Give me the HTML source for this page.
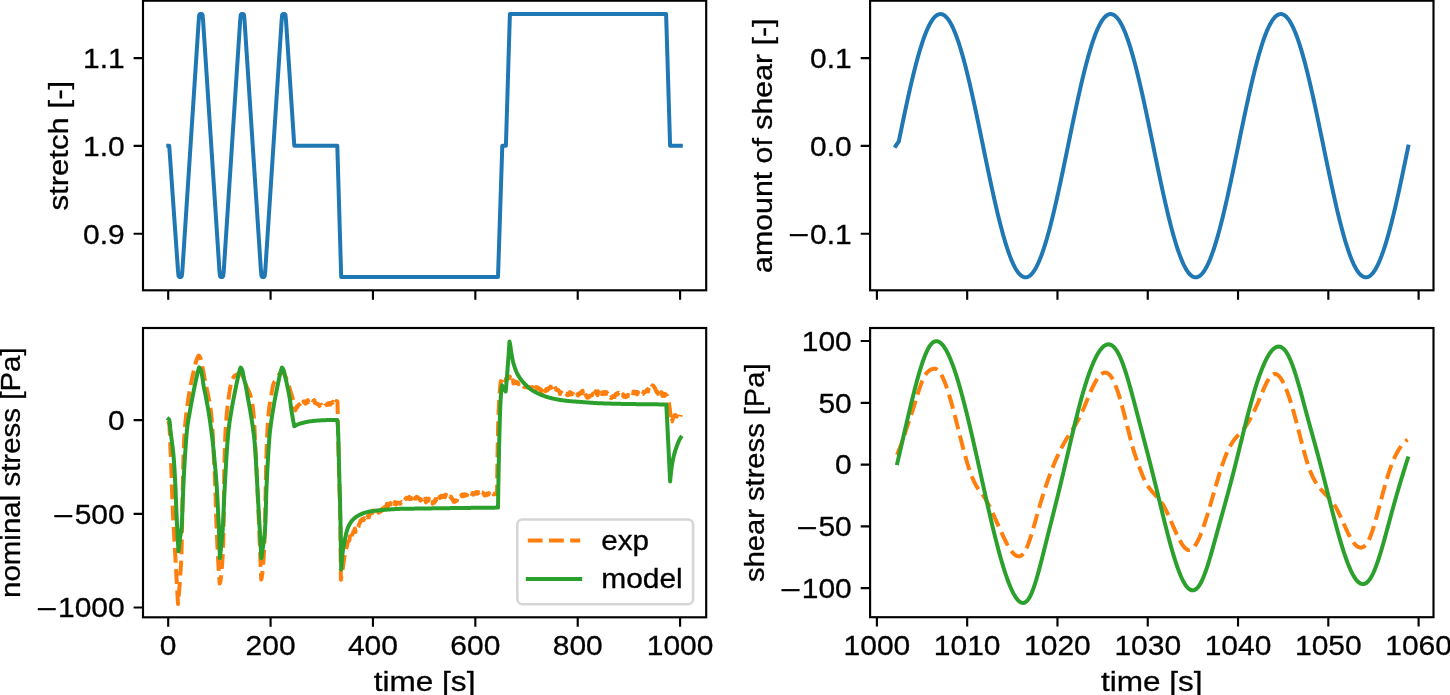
<!DOCTYPE html>
<html lang="en"><head><meta charset="utf-8"><title>stretch / shear protocol and stress response</title>
<style>html,body{margin:0;padding:0;background:#fff}body{width:1450px;height:695px;overflow:hidden;font-family:"Liberation Sans",sans-serif}svg{display:block}text{stroke:#000;stroke-width:.3px}</style></head>
<body>
<svg width="1450" height="695" viewBox="0 0 1450 695">
<rect width="1450" height="695" fill="#fff"/>
<g opacity="0.999" font-family="'Liberation Sans', sans-serif" font-size="27" fill="#000">
<clipPath id="ctl"><rect x="143" y="0.7" width="563.2" height="289.6"/></clipPath>
<clipPath id="ctr"><rect x="870.1" y="0.7" width="563.4" height="289.6"/></clipPath>
<clipPath id="cbl"><rect x="143" y="328" width="563.2" height="289.3"/></clipPath>
<clipPath id="cbr"><rect x="870.1" y="328" width="563.4" height="289.2"/></clipPath>
<g clip-path="url(#ctl)">
<path d="M168.3 145.7L169.2 145.7L178.03 271.01L178.55 275.92L179.35 277L181.05 277L181.84 275.92L182.34 271.01L198.76 19.89L199.26 14.98L200.05 13.9L201.75 13.9L202.54 14.98L203.04 19.89L219.46 271.01L219.96 275.92L220.75 277L222.45 277L223.24 275.92L223.74 271.01L240.21 19.89L240.71 14.98L241.5 13.9L243.2 13.9L243.99 14.98L244.49 19.89L260.96 271.01L261.46 275.92L262.25 277L263.95 277L264.74 275.92L265.24 271.01L281.66 19.89L282.16 14.98L282.95 13.9L284.65 13.9L285.44 14.98L285.95 19.89L294.3 145.7L337.3 145.7L341.2 277L498 277L502.3 145.7L505.9 145.7L509.9 13.9L666.1 13.9L670.1 145.7L680.8 145.7" fill="none" stroke="#1f77b4" stroke-width="4" stroke-linecap="square" stroke-linejoin="round"/>
</g>
<g clip-path="url(#ctr)">
<path d="M895.7 145.9L898.8 141.33L899.53 137.79L900.26 134.26L900.99 130.73L901.72 127.22L902.44 123.72L903.17 120.23L903.9 116.77L904.63 113.32L905.36 109.9L906.09 106.51L906.82 103.14L907.55 99.8L908.27 96.5L909 93.23L909.73 90L910.46 86.81L911.19 83.67L911.92 80.56L912.65 77.51L913.38 74.5L914.11 71.55L914.83 68.65L915.56 65.81L916.29 63.02L917.02 60.3L917.75 57.63L918.48 55.03L919.21 52.49L919.94 50.03L920.66 47.63L921.39 45.3L922.12 43.05L922.85 40.87L923.58 38.76L924.31 36.74L925.04 34.79L925.77 32.92L926.5 31.13L927.22 29.43L927.95 27.81L928.68 26.28L929.41 24.83L930.14 23.47L930.87 22.2L931.6 21.02L932.33 19.93L933.05 18.93L933.78 18.02L934.51 17.2L935.24 16.48L935.97 15.85L936.7 15.32L937.43 14.88L938.16 14.53L938.89 14.28L939.61 14.12L940.34 14.06L941.07 14.1L941.8 14.23L942.53 14.45L943.26 14.77L943.99 15.19L944.72 15.69L945.44 16.3L946.17 17L946.9 17.79L947.63 18.67L948.36 19.64L949.09 20.71L949.82 21.87L950.55 23.11L951.28 24.45L952 25.87L952.73 27.38L953.46 28.98L954.19 30.66L954.92 32.42L955.65 34.27L956.38 36.19L957.11 38.2L957.83 40.28L958.56 42.44L959.29 44.67L960.02 46.98L960.75 49.36L961.48 51.81L962.21 54.32L962.94 56.91L963.67 59.55L964.39 62.26L965.12 65.03L965.85 67.86L966.58 70.75L967.31 73.69L968.04 76.68L968.77 79.72L969.5 82.81L970.23 85.94L970.95 89.12L971.68 92.34L972.41 95.59L973.14 98.89L973.87 102.22L974.6 105.57L975.33 108.96L976.06 112.38L976.78 115.82L977.51 119.28L978.24 122.76L978.97 126.25L979.7 129.76L980.43 133.28L981.16 136.81L981.89 140.35L982.62 143.89L983.34 147.43L984.07 150.98L984.8 154.51L985.53 158.04L986.26 161.57L986.99 165.08L987.72 168.57L988.45 172.05L989.17 175.51L989.9 178.95L990.63 182.37L991.36 185.76L992.09 189.11L992.82 192.44L993.55 195.74L994.28 199L995.01 202.21L995.73 205.39L996.46 208.53L997.19 211.62L997.92 214.66L998.65 217.65L999.38 220.59L1000.11 223.48L1000.84 226.31L1001.56 229.08L1002.29 231.79L1003.02 234.44L1003.75 237.02L1004.48 239.54L1005.21 241.99L1005.94 244.37L1006.67 246.68L1007.4 248.92L1008.12 251.08L1008.85 253.16L1009.58 255.17L1010.31 257.1L1011.04 258.94L1011.77 260.71L1012.5 262.39L1013.23 263.99L1013.95 265.5L1014.68 266.92L1015.41 268.26L1016.14 269.51L1016.87 270.67L1017.6 271.74L1018.33 272.71L1019.06 273.6L1019.79 274.39L1020.51 275.09L1021.24 275.69L1021.97 276.21L1022.7 276.62L1023.43 276.94L1024.16 277.17L1024.89 277.3L1025.62 277.34L1026.34 277.28L1027.07 277.13L1027.8 276.88L1028.53 276.53L1029.26 276.09L1029.99 275.56L1030.72 274.93L1031.45 274.21L1032.18 273.4L1032.9 272.49L1033.63 271.49L1034.36 270.4L1035.09 269.22L1035.82 267.96L1036.55 266.6L1037.28 265.15L1038.01 263.62L1038.73 262L1039.46 260.3L1040.19 258.52L1040.92 256.65L1041.65 254.71L1042.38 252.68L1043.11 250.58L1043.84 248.4L1044.57 246.15L1045.29 243.82L1046.02 241.42L1046.75 238.96L1047.48 236.42L1048.21 233.82L1048.94 231.16L1049.67 228.44L1050.4 225.65L1051.12 222.81L1051.85 219.91L1052.58 216.96L1053.31 213.95L1054.04 210.9L1054.77 207.8L1055.5 204.65L1056.23 201.47L1056.96 198.24L1057.68 194.97L1058.41 191.67L1059.14 188.33L1059.87 184.97L1060.6 181.57L1061.33 178.15L1062.06 174.71L1062.79 171.24L1063.51 167.76L1064.24 164.26L1064.97 160.74L1065.7 157.22L1066.43 153.69L1067.16 150.15L1067.89 146.61L1068.62 143.06L1069.35 139.52L1070.07 135.99L1070.8 132.46L1071.53 128.94L1072.26 125.43L1072.99 121.94L1073.72 118.46L1074.45 115.01L1075.18 111.58L1075.9 108.17L1076.63 104.79L1077.36 101.43L1078.09 98.11L1078.82 94.83L1079.55 91.58L1080.28 88.37L1081.01 85.2L1081.74 82.08L1082.46 79L1083.19 75.97L1083.92 72.99L1084.65 70.07L1085.38 67.2L1086.11 64.38L1086.84 61.62L1087.57 58.93L1088.29 56.3L1089.02 53.73L1089.75 51.23L1090.48 48.8L1091.21 46.43L1091.94 44.14L1092.67 41.93L1093.4 39.79L1094.13 37.72L1094.85 35.73L1095.58 33.83L1096.31 32L1097.04 30.26L1097.77 28.6L1098.5 27.02L1099.23 25.53L1099.96 24.13L1100.69 22.81L1101.41 21.59L1102.14 20.45L1102.87 19.41L1103.6 18.45L1104.33 17.59L1105.06 16.82L1105.79 16.15L1106.52 15.57L1107.24 15.08L1107.97 14.69L1108.7 14.39L1109.43 14.19L1110.16 14.08L1110.89 14.07L1111.62 14.15L1112.35 14.33L1113.08 14.6L1113.8 14.97L1114.53 15.43L1115.26 15.99L1115.99 16.64L1116.72 17.39L1117.45 18.22L1118.18 19.15L1118.91 20.18L1119.63 21.29L1120.36 22.49L1121.09 23.78L1121.82 25.16L1122.55 26.63L1123.28 28.18L1124.01 29.82L1124.74 31.54L1125.47 33.35L1126.19 35.24L1126.92 37.2L1127.65 39.25L1128.38 41.37L1129.11 43.57L1129.84 45.84L1130.57 48.18L1131.3 50.6L1132.02 53.08L1132.75 55.63L1133.48 58.25L1134.21 60.93L1134.94 63.67L1135.67 66.47L1136.4 69.32L1137.13 72.24L1137.86 75.2L1138.58 78.22L1139.31 81.29L1140.04 84.4L1140.77 87.55L1141.5 90.75L1142.23 93.99L1142.96 97.27L1143.69 100.58L1144.41 103.92L1145.14 107.3L1145.87 110.7L1146.6 114.13L1147.33 117.58L1148.06 121.05L1148.79 124.53L1149.52 128.04L1150.25 131.55L1150.97 135.08L1151.7 138.62L1152.43 142.15L1153.16 145.7L1153.89 149.24L1154.62 152.78L1155.35 156.31L1156.08 159.84L1156.8 163.36L1157.53 166.86L1158.26 170.35L1158.99 173.82L1159.72 177.27L1160.45 180.69L1161.18 184.1L1161.91 187.47L1162.64 190.81L1163.36 194.13L1164.09 197.4L1164.82 200.64L1165.55 203.84L1166.28 207L1167.01 210.11L1167.74 213.17L1168.47 216.19L1169.19 219.16L1169.92 222.07L1170.65 224.93L1171.38 227.73L1172.11 230.47L1172.84 233.15L1173.57 235.76L1174.3 238.31L1175.03 240.8L1175.75 243.21L1176.48 245.56L1177.21 247.83L1177.94 250.03L1178.67 252.15L1179.4 254.19L1180.13 256.16L1180.86 258.05L1181.58 259.85L1182.31 261.57L1183.04 263.21L1183.77 264.77L1184.5 266.23L1185.23 267.62L1185.96 268.91L1186.69 270.11L1187.42 271.22L1188.14 272.24L1188.87 273.17L1189.6 274.01L1190.33 274.76L1191.06 275.41L1191.79 275.97L1192.52 276.43L1193.25 276.8L1193.97 277.07L1194.7 277.25L1195.43 277.33L1196.16 277.32L1196.89 277.21L1197.62 277.01L1198.35 276.71L1199.08 276.32L1199.81 275.83L1200.53 275.25L1201.26 274.58L1201.99 273.81L1202.72 272.95L1203.45 271.99L1204.18 270.95L1204.91 269.81L1205.64 268.59L1206.36 267.27L1207.09 265.87L1207.82 264.38L1208.55 262.81L1209.28 261.15L1210.01 259.4L1210.74 257.58L1211.47 255.67L1212.2 253.68L1212.92 251.62L1213.65 249.48L1214.38 247.26L1215.11 244.97L1215.84 242.61L1216.57 240.18L1217.3 237.67L1218.03 235.11L1218.76 232.48L1219.48 229.78L1220.21 227.02L1220.94 224.21L1221.67 221.34L1222.4 218.41L1223.13 215.43L1223.86 212.4L1224.59 209.33L1225.31 206.2L1226.04 203.03L1226.77 199.83L1227.5 196.58L1228.23 193.29L1228.96 189.97L1229.69 186.62L1230.42 183.24L1231.15 179.83L1231.87 176.4L1232.6 172.94L1233.33 169.47L1234.06 165.97L1234.79 162.47L1235.52 158.95L1236.25 155.42L1236.98 151.88L1237.7 148.34L1238.43 144.8L1239.16 141.26L1239.89 137.72L1240.62 134.19L1241.35 130.66L1242.08 127.15L1242.81 123.65L1243.54 120.17L1244.26 116.7L1244.99 113.26L1245.72 109.84L1246.45 106.44L1247.18 103.07L1247.91 99.74L1248.64 96.44L1249.37 93.17L1250.09 89.94L1250.82 86.75L1251.55 83.61L1252.28 80.51L1253.01 77.45L1253.74 74.45L1254.47 71.5L1255.2 68.6L1255.93 65.75L1256.65 62.97L1257.38 60.24L1258.11 57.58L1258.84 54.98L1259.57 52.45L1260.3 49.98L1261.03 47.58L1261.76 45.26L1262.48 43.01L1263.21 40.83L1263.94 38.72L1264.67 36.7L1265.4 34.75L1266.13 32.89L1266.86 31.1L1267.59 29.4L1268.32 27.78L1269.04 26.25L1269.77 24.81L1270.5 23.45L1271.23 22.18L1271.96 21L1272.69 19.91L1273.42 18.91L1274.15 18L1274.87 17.19L1275.6 16.47L1276.33 15.84L1277.06 15.31L1277.79 14.87L1278.52 14.52L1279.25 14.27L1279.98 14.12L1280.71 14.06L1281.43 14.1L1282.16 14.23L1282.89 14.46L1283.62 14.78L1284.35 15.19L1285.08 15.71L1285.81 16.31L1286.54 17.01L1287.26 17.8L1287.99 18.69L1288.72 19.66L1289.45 20.73L1290.18 21.89L1290.91 23.14L1291.64 24.47L1292.37 25.9L1293.1 27.41L1293.82 29.01L1294.55 30.69L1295.28 32.45L1296.01 34.3L1296.74 36.23L1297.47 38.24L1298.2 40.32L1298.93 42.48L1299.65 44.72L1300.38 47.03L1301.11 49.41L1301.84 51.86L1302.57 54.37L1303.3 56.96L1304.03 59.61L1304.76 62.32L1305.49 65.09L1306.21 67.92L1306.94 70.8L1307.67 73.74L1308.4 76.73L1309.13 79.78L1309.86 82.87L1310.59 86L1311.32 89.18L1312.04 92.4L1312.77 95.66L1313.5 98.95L1314.23 102.28L1314.96 105.64L1315.69 109.03L1316.42 112.44L1317.15 115.88L1317.88 119.34L1318.6 122.82L1319.33 126.32L1320.06 129.83L1320.79 133.35L1321.52 136.88L1322.25 140.42L1322.98 143.96L1323.71 147.5L1324.43 151.04L1325.16 154.58L1325.89 158.11L1326.62 161.63L1327.35 165.14L1328.08 168.64L1328.81 172.12L1329.54 175.58L1330.27 179.02L1330.99 182.43L1331.72 185.82L1332.45 189.18L1333.18 192.51L1333.91 195.8L1334.64 199.06L1335.37 202.28L1336.1 205.45L1336.82 208.59L1337.55 211.68L1338.28 214.72L1339.01 217.71L1339.74 220.65L1340.47 223.53L1341.2 226.36L1341.93 229.13L1342.66 231.84L1343.38 234.49L1344.11 237.07L1344.84 239.59L1345.57 242.04L1346.3 244.41L1347.03 246.72L1347.76 248.96L1348.49 251.12L1349.22 253.2L1349.94 255.21L1350.67 257.13L1351.4 258.98L1352.13 260.74L1352.86 262.42L1353.59 264.02L1354.32 265.53L1355.05 266.95L1355.77 268.28L1356.5 269.53L1357.23 270.69L1357.96 271.75L1358.69 272.73L1359.42 273.61L1360.15 274.4L1360.88 275.1L1361.61 275.7L1362.33 276.21L1363.06 276.63L1363.79 276.95L1364.52 277.17L1365.25 277.3L1365.98 277.34L1366.71 277.28L1367.44 277.12L1368.16 276.87L1368.89 276.53L1369.62 276.08L1370.35 275.55L1371.08 274.92L1371.81 274.2L1372.54 273.38L1373.27 272.47L1374 271.47L1374.72 270.38L1375.45 269.2L1376.18 267.93L1376.91 266.57L1377.64 265.12L1378.37 263.59L1379.1 261.97L1379.83 260.27L1380.55 258.48L1381.28 256.62L1382.01 254.67L1382.74 252.64L1383.47 250.54L1384.2 248.36L1384.93 246.1L1385.66 243.78L1386.39 241.38L1387.11 238.91L1387.84 236.37L1388.57 233.77L1389.3 231.11L1390.03 228.38L1390.76 225.6L1391.49 222.75L1392.22 219.85L1392.94 216.9L1393.67 213.9L1394.4 210.84L1395.13 207.74L1395.86 204.59L1396.59 201.4L1397.32 198.18L1398.05 194.91L1398.78 191.6L1399.5 188.27L1400.23 184.9L1400.96 181.51L1401.69 178.08L1402.42 174.64L1403.15 171.17L1403.88 167.69L1404.61 164.19L1405.33 160.68L1406.06 157.15L1406.79 153.62L1407.52 150.08L1408.25 146.54" fill="none" stroke="#1f77b4" stroke-width="4" stroke-linecap="square" stroke-linejoin="round"/>
</g>
<g clip-path="url(#cbl)">
<path d="M168.4 421L168.91 423L169.41 426.14L169.92 434.95L170.42 448.7L170.93 459.03L171.43 472.09L171.94 487.03L172.44 501.98L172.95 513.43L173.45 522.99L173.96 532.2L174.46 541.08L174.97 550.03L175.47 559.14L175.98 568.26L176.48 577.32L176.99 586.28L177.49 595.17L178 604L178.5 598.76L179 592.75L179.51 586.1L180.01 578.93L180.51 571.79L181.01 563.94L181.52 552.51L182.02 526.41L182.52 498.66L183.02 474.97L183.53 455.14L184.03 442.4L184.53 433.46L185.03 426.6L185.54 420.88L186.04 415.97L186.54 411.55L187.04 407.57L187.55 403.99L188.05 400.65L188.55 397.36L189.05 394.17L189.56 391.12L190.06 388.26L190.56 385.62L191.06 383.11L191.57 380.73L192.07 378.43L192.57 376.19L193.07 373.99L193.58 371.81L194.08 369.57L194.58 367.3L195.08 365.1L195.59 363.08L196.09 361.34L196.59 359.88L197.09 358.55L197.6 357.35L198.1 356.32L198.6 355.5L199.1 355.75L199.6 356.42L200.11 357.39L200.61 358.54L201.11 359.96L201.61 362.22L202.12 365L202.62 367.93L203.12 370.62L203.62 373.24L204.13 375.89L204.63 378.54L205.13 381.14L205.63 383.65L206.14 386.04L206.64 388.34L207.14 390.62L207.64 392.92L208.15 395.31L208.65 397.85L209.15 400.39L209.65 403L210.15 405.93L210.66 409.44L211.16 413.82L211.66 419.14L212.16 425.36L212.67 432.59L213.17 442.13L213.67 452.99L214.17 463.52L214.68 473.47L215.18 484.55L215.68 499.52L216.18 516.68L216.69 529.83L217.19 541.51L217.69 551.98L218.19 561.34L218.7 569.71L219.2 577.13L219.7 583.5L220.2 582.38L220.7 579.32L221.21 574.77L221.71 569.19L222.21 563.05L222.71 555.73L223.22 544.11L223.72 517.29L224.22 474.41L224.72 452.65L225.23 438.11L225.73 427.64L226.23 420.3L226.73 414.43L227.24 409.32L227.74 404.83L228.24 400.84L228.74 397.13L229.25 393.59L229.75 390.31L230.25 387.39L230.75 384.93L231.26 383.01L231.76 381.43L232.26 380.01L232.76 378.77L233.27 377.73L233.77 376.91L234.27 376.32L234.77 375.84L235.28 375.41L235.78 375.05L236.28 374.77L236.78 374.56L237.29 374.43L237.79 374.31L238.29 374.21L238.79 374.12L239.3 374.06L239.8 374.01L240.3 374L240.81 374.13L241.32 374.48L241.83 374.98L242.34 375.61L242.85 376.29L243.36 377.12L243.87 378.35L244.38 379.87L244.89 381.54L245.4 383.21L245.91 384.75L246.42 386.07L246.93 387.25L247.44 388.36L247.95 389.43L248.46 390.5L248.97 391.64L249.48 392.87L249.99 394.24L250.5 395.81L251 397.62L251.51 399.74L252.02 402.3L252.53 405.39L253.04 409.11L253.55 413.56L254.06 419.45L254.57 429.24L255.08 440.91L255.59 451.85L256.1 461.9L256.61 472.03L257.12 482.57L257.63 493.52L258.14 504.82L258.65 516.51L259.16 528.76L259.67 541.65L260.18 554.52L260.69 567.07L261.2 579.5L261.7 578.06L262.2 574.56L262.71 569.56L263.21 563.63L263.71 557.08L264.21 548.02L264.72 535.51L265.22 515.65L265.72 485.94L266.23 461.52L266.73 446.38L267.23 434.91L267.73 425.33L268.24 417.36L268.74 411.55L269.24 407.42L269.74 404.09L270.25 401.22L270.75 398.47L271.25 395.53L271.75 392.45L272.25 389.46L272.76 386.76L273.26 384.55L273.76 383.06L274.26 382.04L274.77 381.24L275.27 380.57L275.77 379.94L276.28 379.28L276.78 378.51L277.28 377.66L277.78 376.77L278.29 375.89L278.79 375.05L279.29 374.29L279.79 373.63L280.3 373.03L280.8 372.48L281.3 372L281.8 372.14L282.3 372.42L282.8 372.81L283.3 373.27L283.8 373.79L284.3 374.36L284.8 375.14L285.3 376.09L285.8 377.2L286.3 378.42L286.8 379.72L287.3 381.08L287.8 382.45L288.3 383.86L288.8 385.44L289.3 387.16L289.8 388.96L290.3 390.76L290.8 392.52L291.3 394.17L291.8 395.72L292.3 397.27L292.8 398.93L293.3 400.8L293.8 402.92L294.3 405.26L294.8 407.79L295.3 410.5L295.8 409.34L296.3 408.24L296.81 406.55L297.31 407.3L297.81 405.94L298.31 405.26L298.82 404.62L299.32 404.16L299.82 404.27L300.32 403.68L300.83 403.11L301.33 401.94L301.83 402.98L302.33 402.02L302.84 403.3L303.34 401.48L303.84 402.3L304.34 402.37L304.85 401.36L305.35 403.61L305.85 403.39L306.35 401.91L306.85 402.79L307.36 402.44L307.86 400.12L308.36 402.18L308.86 401.85L309.37 401.85L309.87 400.87L310.37 401.37L310.87 401.34L311.38 402.27L311.88 401.56L312.38 401.24L312.88 402.36L313.39 400.79L313.89 401L314.39 400.12L314.89 402.95L315.4 402.85L315.9 403.22L316.4 403.46L316.9 403.46L317.4 403.95L317.91 403.96L318.41 404.29L318.91 404.69L319.41 405.9L319.92 405.3L320.42 404.94L320.92 404.65L321.42 404.7L321.93 406.46L322.43 405.71L322.93 405.44L323.43 405.18L323.94 404.64L324.44 405.45L324.94 406.15L325.44 405.15L325.95 405.15L326.45 404.99L326.95 405.03L327.45 403.52L327.95 404.29L328.46 403.57L328.96 404.62L329.46 403.14L329.96 403.94L330.47 404.48L330.97 402.97L331.47 402.62L331.97 403.09L332.48 402.82L332.98 401.96L333.48 402.93L333.98 403.99L334.49 402.18L334.99 402.12L335.49 401.4L335.99 402.34L336.5 401.09L337 401.13L337.5 401.9L338.07 433.26L338.63 458.34L339.2 480.14L339.77 497.69L340.33 524.44L340.9 579.8L341.4 576.79L341.9 573.74L342.4 570.62L342.9 567.36L343.4 563.92L343.9 560.55L344.4 557.05L344.9 555.38L345.4 552.87L345.9 548.79L346.4 547.78L346.9 546.43L347.4 544.05L347.9 541.38L348.4 541.38L348.91 540.85L349.41 540.25L349.91 536.29L350.41 538.85L350.91 535.07L351.41 535.74L351.91 535.13L352.41 534.2L352.91 532.89L353.41 531.28L353.91 532.03L354.41 530.45L354.91 528.54L355.41 532L355.91 529.85L356.41 530.1L356.91 527.43L357.41 528.55L357.91 527.89L358.41 527.03L358.91 524.97L359.41 523.17L359.91 523.02L360.41 520.61L360.91 520.14L361.41 520.72L361.91 519.23L362.41 519.29L362.91 518.93L363.41 520.2L363.91 519.53L364.42 518.36L364.92 519.17L365.42 517.56L365.92 517.77L366.42 518.57L366.92 516.78L367.42 517.28L367.92 516.15L368.42 516.72L368.92 517.22L369.42 514.7L369.92 514.66L370.42 513.04L370.92 512.1L371.42 511.35L371.92 512.79L372.42 513.05L372.92 511.4L373.42 510.48L373.92 511.69L374.42 511.18L374.92 512.38L375.42 512.37L375.92 512.74L376.42 513.31L376.92 512.66L377.42 512.89L377.92 511.87L378.42 512.67L378.92 511.68L379.42 512.3L379.92 511.29L380.43 511.62L380.93 511.38L381.43 509.44L381.93 509.36L382.43 508.72L382.93 509.46L383.43 509.69L383.93 508.6L384.43 507.32L384.93 508.36L385.43 505.81L385.93 507.75L386.43 505.81L386.93 503.91L387.43 507.67L387.93 506.57L388.43 504.33L388.93 504.96L389.43 504.43L389.93 504.44L390.43 503.06L390.93 503.5L391.43 504.24L391.93 503.96L392.43 504.63L392.93 503.73L393.43 505.39L393.93 503.05L394.43 503.75L394.93 502.08L395.43 502.55L395.94 504.47L396.44 502.74L396.94 503.82L397.44 503.35L397.94 502.58L398.44 503.06L398.94 502.9L399.44 502.87L399.94 503.74L400.44 503.6L400.94 502.56L401.44 502.1L401.94 502.69L402.44 502.04L402.94 502.47L403.44 503.24L403.94 501.4L404.44 500.26L404.94 499.69L405.44 498.73L405.94 498.29L406.44 497.87L406.94 498.05L407.44 497.84L407.94 498.62L408.44 497.68L408.94 497.75L409.44 496.91L409.94 498.99L410.44 498.07L410.94 498.97L411.45 498.17L411.95 498.64L412.45 497.29L412.95 497.97L413.45 499.43L413.95 496.45L414.45 498.23L414.95 498.6L415.45 497.63L415.95 497.88L416.45 498.27L416.95 496.92L417.45 497.98L417.95 497.34L418.45 497.9L418.95 498.39L419.45 499.22L419.95 499.9L420.45 500.54L420.95 499.44L421.45 502.3L421.95 501.78L422.45 501.45L422.95 500.57L423.45 500.7L423.95 501.09L424.45 500.87L424.95 499.12L425.45 500.84L425.95 502.37L426.45 498.56L426.96 500.61L427.46 500.01L427.96 499.54L428.46 500.61L428.96 498.6L429.46 499.64L429.96 500.89L430.46 500.07L430.96 500.49L431.46 501.52L431.96 501.66L432.46 503.61L432.96 501.9L433.46 503.21L433.96 501.38L434.46 502.55L434.96 501.54L435.46 499.15L435.96 500.61L436.46 499.22L436.96 499.12L437.46 500.08L437.96 497.49L438.46 497.03L438.96 498.53L439.46 497.17L439.96 498.03L440.46 496.95L440.96 495.89L441.46 496.39L441.96 497.27L442.47 496.93L442.97 496.09L443.47 496.02L443.97 495.8L444.47 495.35L444.97 497.21L445.47 495.65L445.97 494.71L446.47 495.15L446.97 496.04L447.47 495.94L447.97 495.31L448.47 494.89L448.97 495.43L449.47 494.28L449.97 494.89L450.47 496.97L450.97 496.54L451.47 497.82L451.97 499.13L452.47 499.36L452.97 499.52L453.47 501.72L453.97 501.09L454.47 500.67L454.97 501.72L455.47 501.51L455.97 500.41L456.47 500.88L456.97 500.35L457.47 498.52L457.98 499.4L458.48 498.77L458.98 498.08L459.48 496.57L459.98 497L460.48 496.71L460.98 496.35L461.48 495L461.98 496.06L462.48 494.44L462.98 495.07L463.48 496.12L463.98 494.47L464.48 494.5L464.98 495.63L465.48 494.42L465.98 494.41L466.48 494.73L466.98 495.29L467.48 492.72L467.98 493.71L468.48 493.5L468.98 493.38L469.48 493.48L469.98 493.42L470.48 494.22L470.98 493.22L471.48 493.91L471.98 494.03L472.48 493.06L472.98 493.62L473.48 494.68L473.99 493.57L474.49 492.73L474.99 493.08L475.49 492.33L475.99 493.15L476.49 493.52L476.99 492.15L477.49 492.55L477.99 493.5L478.49 492.21L478.99 492.7L479.49 491.74L479.99 491.88L480.49 492.11L480.99 494.17L481.49 492.33L481.99 492.38L482.49 492.53L482.99 493.03L483.49 493.86L483.99 493.74L484.49 495.37L484.99 494.2L485.49 495.33L485.99 494.63L486.49 495.01L486.99 493.57L487.49 494.6L487.99 494.65L488.49 494.5L488.99 493.05L489.5 495.29L490 494.31L490.5 494.22L491 494.31L491.5 494.28L492 494.69L492.5 493.37L493 493.56L493.5 494.41L494 494.23L494.5 493.76L495 493.54L495.5 493.25L496 493.71L496.5 494.52L497 493.5L497.56 452.48L498.11 426.1L498.67 410.33L499.23 399.13L499.79 391.15L500.34 384.8L500.9 381.1L501.4 380.9L501.9 380.71L502.4 379.73L502.9 380.53L503.4 379.75L503.9 379.29L504.4 380.08L504.9 378.79L505.41 380.76L505.91 378.66L506.41 380.34L506.91 377.77L507.41 378.8L507.91 377.2L508.41 376.89L508.91 377.83L509.41 378.09L509.91 376.56L510.41 378.43L510.91 377.38L511.41 378.85L511.91 379.99L512.41 381.15L512.91 380.26L513.42 383.47L513.92 382.95L514.42 382.32L514.92 381.95L515.42 381.52L515.92 381.82L516.42 383.29L516.92 382.67L517.42 382.12L517.92 382.64L518.42 384.29L518.92 382.98L519.42 383L519.92 384.74L520.42 384.44L520.92 384.53L521.42 384.45L521.93 384.15L522.43 384.8L522.93 385.61L523.43 386.03L523.93 386.66L524.43 387.01L524.93 386.96L525.43 387.15L525.93 386.41L526.43 385.72L526.93 387.1L527.43 386.92L527.93 387.27L528.43 387.65L528.93 387L529.43 387.15L529.93 387.92L530.44 388.08L530.94 387.49L531.44 388.34L531.94 387.77L532.44 387.14L532.94 387.9L533.44 389.24L533.94 387.28L534.44 388.62L534.94 388.75L535.44 388.8L535.94 387.03L536.44 389.14L536.94 387.7L537.44 387.41L537.94 387.47L538.45 388.31L538.95 388.24L539.45 388.53L539.95 390.15L540.45 389.21L540.95 389.53L541.45 391.43L541.95 391.82L542.45 392.46L542.95 391.05L543.45 392.71L543.95 392.18L544.45 392.97L544.95 390.47L545.45 391.26L545.95 390.53L546.45 389.15L546.96 389.38L547.46 390.32L547.96 388.68L548.46 388.06L548.96 388.83L549.46 388.54L549.96 388.2L550.46 386.59L550.96 386.93L551.46 387.61L551.96 386.31L552.46 386.3L552.96 387.64L553.46 388.43L553.96 386.69L554.46 385.96L554.97 387.2L555.47 387.94L555.97 389L556.47 389.98L556.97 389.79L557.47 389.73L557.97 390.68L558.47 390.19L558.97 391.24L559.47 391.18L559.97 394.07L560.47 393.07L560.97 392.22L561.47 392.48L561.97 393.25L562.47 392.66L562.97 393.62L563.48 393.85L563.98 395.23L564.48 394.35L564.98 394.11L565.48 393.67L565.98 393.73L566.48 394.48L566.98 394.26L567.48 395.14L567.98 393.68L568.48 394.8L568.98 394.05L569.48 393.72L569.98 392.09L570.48 392.51L570.98 393.95L571.48 394.38L571.99 393.46L572.49 394.05L572.99 393.8L573.49 394.7L573.99 395.39L574.49 397.33L574.99 397.16L575.49 396.61L575.99 396.23L576.49 396.44L576.99 395.73L577.49 394.28L577.99 395.62L578.49 394.02L578.99 393.46L579.49 394.34L580 393.81L580.5 392.81L581 393.12L581.5 391.79L582 392.01L582.5 390.73L583 393.32L583.5 391.1L584 393.37L584.5 392.73L585 393.22L585.5 394.46L586 395.45L586.5 396.31L587 397.67L587.5 396.95L588 397.46L588.51 396.31L589.01 397.18L589.51 396.57L590.01 395.87L590.51 395.87L591.01 395.58L591.51 395.44L592.01 395.26L592.51 394.24L593.01 393.74L593.51 394.55L594.01 392.45L594.51 393.03L595.01 394.49L595.51 391.19L596.01 392.68L596.52 393.72L597.02 391.96L597.52 395.15L598.02 391.26L598.52 394.28L599.02 394.37L599.52 393.89L600.02 393.03L600.52 393.47L601.02 392.53L601.52 393.81L602.02 392.36L602.52 392.99L603.02 393.95L603.52 392.36L604.02 392.93L604.52 393.32L605.03 392.19L605.53 394.07L606.03 393.46L606.53 392.17L607.03 393.53L607.53 393.38L608.03 393.95L608.53 395.05L609.03 395.02L609.53 396.83L610.03 396.08L610.53 397.77L611.03 397.3L611.53 398.13L612.03 397.05L612.53 396.88L613.03 396.06L613.54 396.91L614.04 396.67L614.54 397.01L615.04 395.84L615.54 394.53L616.04 393.72L616.54 393.81L617.04 393.26L617.54 394.3L618.04 393.95L618.54 392.72L619.04 392.99L619.54 394.74L620.04 394.19L620.54 394.06L621.04 395.42L621.55 394.55L622.05 394.94L622.55 395.12L623.05 394.29L623.55 396.69L624.05 395.38L624.55 396.06L625.05 396.09L625.55 397.3L626.05 396.75L626.55 396.76L627.05 395.33L627.55 396.27L628.05 394.9L628.55 395.85L629.05 395.46L629.55 394.72L630.06 395.81L630.56 394.23L631.06 393.86L631.56 393.16L632.06 392.6L632.56 393.25L633.06 393.24L633.56 391.43L634.06 393.22L634.56 392.87L635.06 393.28L635.56 393.01L636.06 391.83L636.56 392L637.06 394.38L637.56 393.33L638.07 392.21L638.57 393.66L639.07 393.25L639.57 392.25L640.07 392.01L640.57 392.6L641.07 394.06L641.57 393.86L642.07 393.71L642.57 394.03L643.07 394.1L643.57 391.83L644.07 392.88L644.57 392.14L645.07 391.45L645.57 391.56L646.07 391.47L646.58 390.95L647.08 389.66L647.58 390.02L648.08 391.54L648.58 388.82L649.08 387.88L649.58 388.86L650.08 388.61L650.58 388.03L651.08 386.38L651.58 387.56L652.08 385.88L652.58 385.36L653.08 385.59L653.58 385.93L654.08 386.87L654.58 387.54L655.09 388.06L655.59 389.94L656.09 390.51L656.59 392.24L657.09 391.44L657.59 391.9L658.09 393.88L658.59 392.42L659.09 393.36L659.59 393.62L660.09 393.42L660.59 393.53L661.09 394.98L661.59 392.1L662.09 394.73L662.59 395.85L663.1 394.22L663.6 394.27L664.1 394.92L664.6 395.86L665.1 393.74L665.6 394.87L666.1 394.88L666.6 395.26L667.1 395.5L667.6 396.71L668.1 398.65L668.6 401.15L669.1 404.05L669.6 407.26L670.1 411.47L670.6 416.58L671.1 422.3L671.61 420.91L672.12 421.4L672.63 419.59L673.14 417.57L673.65 416.49L674.16 416.7L674.67 415.22L675.18 416.12L675.69 415.01L676.21 416.16L676.72 416.58L677.23 414.22L677.74 416.16L678.25 415.6L678.76 415.2L679.27 415.84L679.78 416.09L680.29 416.93L680.8 414.86" fill="none" stroke="#ff7f0e" stroke-width="4" stroke-linecap="butt" stroke-linejoin="round" stroke-dasharray="14.8 6.4"/>
<path d="M168.7 419.1L169.21 419.48L169.73 422.44L170.24 428.43L170.75 432.83L171.27 436.65L171.78 440.64L172.29 444.65L172.81 448.77L173.32 453.49L173.83 459.32L174.34 466.75L174.86 475.57L175.37 485.46L175.88 498.14L176.4 511.66L176.91 522.46L177.42 531.74L177.94 541.41L178.45 551.3L178.95 546.93L179.46 542.75L179.96 538.78L180.47 535.22L180.97 532.47L181.48 529.14L181.98 522.77L182.49 507.82L182.99 494.84L183.5 483.35L184 473.13L184.51 464.14L185.01 455.97L185.52 448.52L186.02 441.59L186.53 435.05L187.03 429.5L187.54 425.33L188.04 421.86L188.55 418.84L189.05 416.05L189.56 413.28L190.06 410.38L190.57 407.51L191.07 404.71L191.58 401.96L192.08 399.27L192.59 396.63L193.09 394.03L193.6 391.48L194.1 388.98L194.61 386.52L195.11 384.1L195.62 381.69L196.12 379.26L196.63 376.86L197.13 374.55L197.64 372.41L198.14 370.49L198.65 368.81L199.15 367.3L199.65 367.71L200.16 368.56L200.66 369.65L201.17 371.26L201.67 373.51L202.18 376.22L202.68 379.22L203.19 383.13L203.69 386.16L204.2 388.83L204.7 391.28L205.21 393.66L205.71 396.12L206.22 398.76L206.72 401.42L207.23 404.1L207.73 406.86L208.24 409.73L208.74 412.78L209.25 416.05L209.75 419.51L210.26 423.08L210.76 426.73L211.27 430.39L211.77 434.13L212.28 438.12L212.78 442.49L213.29 447.26L213.79 452.35L214.3 457.68L214.8 463.11L215.31 468.61L215.81 474.42L216.32 480.77L216.82 487.91L217.33 496.71L217.83 506.85L218.34 516.98L218.84 526.41L219.35 539.76L219.85 558.2L220.36 554L220.86 549.37L221.37 544.38L221.87 539.18L222.38 533.64L222.89 526.6L223.39 515.91L223.9 504.04L224.4 493.75L224.91 483.93L225.42 474.66L225.92 465.83L226.43 457.3L226.94 449.43L227.44 442.59L227.95 436.51L228.45 431.16L228.96 426.68L229.47 422.83L229.97 419.41L230.48 416.24L230.98 413.2L231.49 410.17L232 407.26L232.5 404.47L233.01 401.75L233.51 399.09L234.02 396.45L234.53 393.84L235.03 391.28L235.54 388.76L236.05 386.3L236.55 383.9L237.06 381.52L237.56 379.12L238.07 376.76L238.58 374.49L239.08 372.4L239.59 370.54L240.09 368.96L240.6 367.6L241.11 367.92L241.61 368.73L242.12 369.81L242.62 371.5L243.13 374.24L243.64 377.23L244.14 379.67L244.65 381.33L245.15 383.02L245.66 385.29L246.17 387.99L246.67 390.95L247.18 394L247.69 396.96L248.19 399.74L248.7 402.46L249.2 405.17L249.71 407.94L250.22 410.82L250.72 413.82L251.23 416.88L251.73 420.05L252.24 423.36L252.75 426.88L253.25 430.57L253.76 434.38L254.26 438.63L254.77 443.68L255.28 450.35L255.78 458.72L256.29 467.76L256.8 476.55L257.3 485.53L257.81 494.75L258.31 504.01L258.82 513.12L259.33 521.88L259.83 530.56L260.34 539.56L260.84 548.76L261.35 558.2L261.85 554.85L262.35 551.37L262.86 547.76L263.36 544.05L263.86 540.5L264.36 537.11L264.87 532.57L265.37 523.35L265.87 507.04L266.37 490.78L266.88 479.37L267.38 469.62L267.88 460.8L268.38 452.37L268.89 444.37L269.39 437.44L269.89 432.11L270.39 427.9L270.9 424.04L271.4 420.43L271.9 417.02L272.4 413.77L272.91 410.62L273.41 407.6L273.91 404.68L274.41 401.86L274.92 399.12L275.42 396.44L275.92 393.83L276.42 391.29L276.93 388.8L277.43 386.37L277.93 383.99L278.43 381.64L278.94 379.27L279.44 376.94L279.94 374.69L280.44 372.59L280.95 370.69L281.45 369.04L281.95 367.6L282.46 368.08L282.98 368.92L283.49 369.99L284.01 371.51L284.52 373.61L285.04 375.95L285.55 378.22L286.07 380.39L286.58 382.66L287.1 385.01L287.61 387.4L288.12 389.84L288.64 392.4L289.15 395.1L289.67 398L290.18 401.34L290.7 405.01L291.21 408.69L291.73 412.07L292.24 415.16L292.76 418.15L293.27 421.01L293.79 423.73L294.3 426.3L294.8 425.99L295.3 425.69L295.8 425.41L296.3 425.14L296.8 424.89L297.3 424.67L297.8 424.45L298.3 424.25L298.8 424.05L299.3 423.87L299.8 423.69L300.3 423.53L300.8 423.38L301.3 423.23L301.8 423.09L302.3 422.95L302.8 422.82L303.3 422.69L303.8 422.57L304.3 422.46L304.8 422.34L305.3 422.23L305.8 422.13L306.3 422.02L306.8 421.92L307.3 421.82L307.8 421.73L308.3 421.63L308.8 421.55L309.3 421.46L309.8 421.39L310.3 421.31L310.8 421.25L311.3 421.18L311.8 421.12L312.3 421.06L312.8 421.01L313.3 420.95L313.8 420.9L314.3 420.85L314.8 420.81L315.3 420.76L315.8 420.72L316.3 420.68L316.8 420.63L317.3 420.6L317.8 420.56L318.3 420.52L318.8 420.48L319.3 420.45L319.8 420.42L320.3 420.39L320.8 420.36L321.3 420.33L321.8 420.3L322.3 420.28L322.8 420.26L323.3 420.23L323.8 420.21L324.3 420.19L324.8 420.17L325.3 420.15L325.8 420.13L326.3 420.11L326.8 420.09L327.3 420.07L327.8 420.06L328.3 420.04L328.8 420.03L329.3 420.02L329.8 420L330.3 419.99L330.8 419.98L331.3 419.97L331.8 419.97L332.3 419.96L332.8 419.95L333.3 419.94L333.8 419.93L334.3 419.93L334.8 419.92L335.3 419.91L335.8 419.91L336.3 419.9L336.8 419.9L337.3 419.9L337.86 425.65L338.41 439.14L338.97 463.69L339.53 484.52L340.09 503.12L340.64 529.58L341.2 569.4L341.7 562.08L342.2 556.28L342.7 552.11L343.2 548.59L343.7 545.58L344.21 542.89L344.71 540.37L345.21 537.94L345.71 535.64L346.21 533.49L346.71 531.53L347.21 529.8L347.71 528.32L348.21 527.11L348.71 526.02L349.22 525.01L349.72 524.09L350.22 523.23L350.72 522.45L351.22 521.72L351.72 521.06L352.22 520.45L352.72 519.89L353.22 519.37L353.72 518.89L354.22 518.43L354.73 518L355.23 517.6L355.73 517.22L356.23 516.86L356.73 516.52L357.23 516.2L357.73 515.89L358.23 515.61L358.73 515.34L359.23 515.07L359.74 514.82L360.24 514.57L360.74 514.34L361.24 514.11L361.74 513.89L362.24 513.68L362.74 513.47L363.24 513.28L363.74 513.1L364.24 512.93L364.75 512.76L365.25 512.61L365.75 512.47L366.25 512.34L366.75 512.21L367.25 512.09L367.75 511.97L368.25 511.86L368.75 511.75L369.25 511.65L369.75 511.56L370.26 511.46L370.76 511.37L371.26 511.29L371.76 511.21L372.26 511.13L372.76 511.06L373.26 510.99L373.76 510.93L374.26 510.86L374.76 510.8L375.27 510.74L375.77 510.68L376.27 510.62L376.77 510.56L377.27 510.5L377.77 510.45L378.27 510.4L378.77 510.35L379.27 510.29L379.77 510.25L380.27 510.2L380.78 510.15L381.28 510.1L381.78 510.06L382.28 510.02L382.78 509.97L383.28 509.93L383.78 509.89L384.28 509.85L384.78 509.81L385.28 509.77L385.79 509.73L386.29 509.7L386.79 509.66L387.29 509.62L387.79 509.59L388.29 509.55L388.79 509.52L389.29 509.48L389.79 509.44L390.29 509.41L390.79 509.37L391.3 509.34L391.8 509.3L392.3 509.27L392.8 509.24L393.3 509.2L393.8 509.17L394.3 509.14L394.8 509.11L395.3 509.08L395.8 509.05L396.31 509.02L396.81 509L397.31 508.97L397.81 508.95L398.31 508.92L398.81 508.9L399.31 508.88L399.81 508.86L400.31 508.84L400.81 508.83L401.32 508.81L401.82 508.8L402.32 508.79L402.82 508.78L403.32 508.77L403.82 508.76L404.32 508.75L404.82 508.74L405.32 508.74L405.82 508.73L406.32 508.72L406.83 508.71L407.33 508.71L407.83 508.7L408.33 508.69L408.83 508.69L409.33 508.68L409.83 508.68L410.33 508.67L410.83 508.67L411.33 508.66L411.84 508.65L412.34 508.65L412.84 508.64L413.34 508.64L413.84 508.63L414.34 508.63L414.84 508.62L415.34 508.61L415.84 508.61L416.34 508.6L416.84 508.59L417.35 508.59L417.85 508.58L418.35 508.57L418.85 508.56L419.35 508.56L419.85 508.55L420.35 508.54L420.85 508.53L421.35 508.53L421.85 508.52L422.36 508.51L422.86 508.5L423.36 508.5L423.86 508.49L424.36 508.48L424.86 508.47L425.36 508.47L425.86 508.46L426.36 508.45L426.86 508.44L427.36 508.44L427.87 508.43L428.37 508.42L428.87 508.42L429.37 508.41L429.87 508.4L430.37 508.39L430.87 508.39L431.37 508.38L431.87 508.37L432.37 508.37L432.88 508.36L433.38 508.35L433.88 508.35L434.38 508.34L434.88 508.33L435.38 508.32L435.88 508.32L436.38 508.31L436.88 508.3L437.38 508.3L437.88 508.29L438.39 508.28L438.89 508.28L439.39 508.27L439.89 508.26L440.39 508.25L440.89 508.25L441.39 508.24L441.89 508.23L442.39 508.23L442.89 508.22L443.4 508.21L443.9 508.21L444.4 508.2L444.9 508.19L445.4 508.19L445.9 508.18L446.4 508.17L446.9 508.17L447.4 508.16L447.9 508.15L448.41 508.15L448.91 508.14L449.41 508.13L449.91 508.13L450.41 508.12L450.91 508.11L451.41 508.11L451.91 508.1L452.41 508.09L452.91 508.09L453.41 508.08L453.92 508.07L454.42 508.07L454.92 508.06L455.42 508.06L455.92 508.05L456.42 508.04L456.92 508.04L457.42 508.03L457.92 508.02L458.42 508.02L458.93 508.01L459.43 508.01L459.93 508L460.43 507.99L460.93 507.99L461.43 507.98L461.93 507.98L462.43 507.97L462.93 507.97L463.43 507.96L463.93 507.95L464.44 507.95L464.94 507.94L465.44 507.94L465.94 507.93L466.44 507.93L466.94 507.92L467.44 507.91L467.94 507.91L468.44 507.9L468.94 507.9L469.45 507.89L469.95 507.89L470.45 507.88L470.95 507.87L471.45 507.87L471.95 507.86L472.45 507.86L472.95 507.85L473.45 507.85L473.95 507.84L474.45 507.84L474.96 507.83L475.46 507.82L475.96 507.82L476.46 507.81L476.96 507.81L477.46 507.8L477.96 507.8L478.46 507.79L478.96 507.79L479.46 507.78L479.97 507.78L480.47 507.77L480.97 507.77L481.47 507.76L481.97 507.76L482.47 507.75L482.97 507.74L483.47 507.74L483.97 507.73L484.47 507.73L484.98 507.72L485.48 507.72L485.98 507.71L486.48 507.71L486.98 507.7L487.48 507.7L487.98 507.69L488.48 507.69L488.98 507.68L489.48 507.68L489.98 507.67L490.49 507.67L490.99 507.67L491.49 507.66L491.99 507.66L492.49 507.65L492.99 507.65L493.49 507.64L493.99 507.64L494.49 507.63L494.99 507.63L495.5 507.62L496 507.62L496.5 507.61L497 507.61L497.5 507.6L498 507.6L498.51 476.75L499.02 450.58L499.54 429.94L500.05 412.66L500.56 400.58L501.08 393.24L501.59 387.63L502.1 385.4L502.61 386.46L503.13 387.46L503.64 388.39L504.16 389.26L504.67 390.06L505.19 390.81L505.7 391.5L506.24 385.43L506.79 379L507.33 372.21L507.87 365.08L508.41 357.56L508.96 349.66L509.5 341.4L510 343.84L510.5 346.77L511 350.44L511.5 353.94L512 356.69L512.51 359.21L513.01 361.48L513.51 363.47L514.01 365.19L514.51 366.75L515.01 368.21L515.51 369.56L516.01 370.82L516.51 371.99L517.01 373.07L517.52 374.06L518.02 374.99L518.52 375.87L519.02 376.7L519.52 377.48L520.02 378.23L520.52 378.94L521.02 379.62L521.52 380.27L522.02 380.89L522.52 381.49L523.03 382.07L523.53 382.64L524.03 383.2L524.53 383.74L525.03 384.26L525.53 384.78L526.03 385.27L526.53 385.76L527.03 386.22L527.53 386.68L528.04 387.12L528.54 387.54L529.04 387.95L529.54 388.35L530.04 388.73L530.54 389.1L531.04 389.46L531.54 389.8L532.04 390.14L532.54 390.47L533.05 390.79L533.55 391.1L534.05 391.4L534.55 391.69L535.05 391.97L535.55 392.25L536.05 392.52L536.55 392.78L537.05 393.03L537.55 393.28L538.05 393.52L538.56 393.75L539.06 393.98L539.56 394.2L540.06 394.42L540.56 394.63L541.06 394.84L541.56 395.04L542.06 395.24L542.56 395.43L543.06 395.62L543.57 395.8L544.07 395.98L544.57 396.15L545.07 396.32L545.57 396.49L546.07 396.66L546.57 396.82L547.07 396.98L547.57 397.14L548.07 397.29L548.57 397.44L549.08 397.58L549.58 397.72L550.08 397.85L550.58 397.98L551.08 398.11L551.58 398.23L552.08 398.34L552.58 398.45L553.08 398.56L553.58 398.67L554.09 398.78L554.59 398.88L555.09 398.99L555.59 399.09L556.09 399.19L556.59 399.29L557.09 399.38L557.59 399.48L558.09 399.57L558.59 399.67L559.09 399.76L559.6 399.84L560.1 399.93L560.6 400.01L561.1 400.09L561.6 400.17L562.1 400.25L562.6 400.32L563.1 400.4L563.6 400.47L564.1 400.53L564.61 400.6L565.11 400.66L565.61 400.72L566.11 400.78L566.61 400.83L567.11 400.89L567.61 400.94L568.11 400.99L568.61 401.03L569.11 401.08L569.62 401.13L570.12 401.17L570.62 401.21L571.12 401.25L571.62 401.29L572.12 401.33L572.62 401.37L573.12 401.41L573.62 401.44L574.12 401.48L574.62 401.52L575.13 401.55L575.63 401.59L576.13 401.62L576.63 401.66L577.13 401.69L577.63 401.73L578.13 401.76L578.63 401.8L579.13 401.84L579.63 401.87L580.14 401.91L580.64 401.95L581.14 401.99L581.64 402.02L582.14 402.06L582.64 402.1L583.14 402.14L583.64 402.18L584.14 402.22L584.64 402.26L585.14 402.3L585.65 402.34L586.15 402.38L586.65 402.42L587.15 402.46L587.65 402.5L588.15 402.53L588.65 402.57L589.15 402.61L589.65 402.65L590.15 402.69L590.66 402.72L591.16 402.76L591.66 402.79L592.16 402.83L592.66 402.86L593.16 402.89L593.66 402.93L594.16 402.96L594.66 402.99L595.16 403.02L595.66 403.05L596.17 403.07L596.67 403.1L597.17 403.13L597.67 403.15L598.17 403.17L598.67 403.19L599.17 403.22L599.67 403.24L600.17 403.26L600.67 403.27L601.18 403.29L601.68 403.31L602.18 403.33L602.68 403.35L603.18 403.37L603.68 403.39L604.18 403.41L604.68 403.42L605.18 403.44L605.68 403.46L606.18 403.48L606.69 403.49L607.19 403.51L607.69 403.53L608.19 403.54L608.69 403.56L609.19 403.57L609.69 403.59L610.19 403.6L610.69 403.62L611.19 403.63L611.7 403.65L612.2 403.66L612.7 403.68L613.2 403.69L613.7 403.71L614.2 403.72L614.7 403.73L615.2 403.75L615.7 403.76L616.2 403.77L616.71 403.78L617.21 403.8L617.71 403.81L618.21 403.82L618.71 403.83L619.21 403.84L619.71 403.85L620.21 403.86L620.71 403.87L621.21 403.88L621.71 403.9L622.22 403.91L622.72 403.91L623.22 403.92L623.72 403.93L624.22 403.94L624.72 403.95L625.22 403.96L625.72 403.97L626.22 403.98L626.72 403.99L627.23 403.99L627.73 404L628.23 404.01L628.73 404.02L629.23 404.03L629.73 404.03L630.23 404.04L630.73 404.05L631.23 404.06L631.73 404.06L632.23 404.07L632.74 404.08L633.24 404.09L633.74 404.09L634.24 404.1L634.74 404.11L635.24 404.12L635.74 404.12L636.24 404.13L636.74 404.14L637.24 404.15L637.75 404.15L638.25 404.16L638.75 404.17L639.25 404.17L639.75 404.18L640.25 404.19L640.75 404.19L641.25 404.2L641.75 404.21L642.25 404.21L642.75 404.22L643.26 404.23L643.76 404.23L644.26 404.24L644.76 404.25L645.26 404.25L645.76 404.26L646.26 404.26L646.76 404.27L647.26 404.28L647.76 404.28L648.27 404.29L648.77 404.29L649.27 404.3L649.77 404.3L650.27 404.31L650.77 404.31L651.27 404.32L651.77 404.32L652.27 404.33L652.77 404.33L653.28 404.34L653.78 404.34L654.28 404.35L654.78 404.35L655.28 404.35L655.78 404.36L656.28 404.36L656.78 404.36L657.28 404.37L657.78 404.37L658.28 404.37L658.79 404.38L659.29 404.38L659.79 404.38L660.29 404.38L660.79 404.39L661.29 404.39L661.79 404.39L662.29 404.39L662.79 404.39L663.29 404.4L663.8 404.4L664.3 404.4L664.8 404.4L665.3 404.4L665.8 404.4L666.3 404.4L666.84 414.98L667.39 425.71L667.93 436.62L668.47 447.64L669.01 458.79L669.56 470.07L670.1 481.5L670.61 476.4L671.12 471.63L671.63 467.38L672.14 463.84L672.65 461.05L673.16 458.59L673.67 456.39L674.18 454.41L674.69 452.6L675.2 450.94L675.7 449.38L676.21 447.88L676.72 446.43L677.23 445.02L677.74 443.68L678.25 442.41L678.76 441.23L679.27 440.13L679.78 439.14L680.29 438.26L680.8 437.5" fill="none" stroke="#2ca02c" stroke-width="4" stroke-linecap="square" stroke-linejoin="round"/>
</g>
<g clip-path="url(#cbr)">
<path d="M897 454.79L898 452.48L899 450.08L900 447.59L901 444.97L902.01 442.21L903.01 439.33L904.01 436.35L905.01 433.3L906.01 430.22L907.01 427.12L908.01 424.06L909.01 421.05L910.02 418.1L911.02 415.17L912.02 412.22L913.02 409.21L914.02 406.09L915.02 402.86L916.02 399.55L917.02 396.25L918.02 392.99L919.03 389.84L920.03 386.86L921.03 384.09L922.03 381.54L923.03 379.22L924.03 377.17L925.03 375.38L926.03 373.87L927.04 372.61L928.04 371.59L929.04 370.76L930.04 370.1L931.04 369.58L932.04 369.17L933.04 368.86L934.04 368.7L935.04 368.71L936.05 368.95L937.05 369.44L938.05 370.23L939.05 371.3L940.05 372.64L941.05 374.24L942.05 376.09L943.05 378.17L944.06 380.48L945.06 382.98L946.06 385.68L947.06 388.56L948.06 391.61L949.06 394.81L950.06 398.16L951.06 401.63L952.06 405.21L953.07 408.9L954.07 412.67L955.07 416.52L956.07 420.43L957.07 424.39L958.07 428.38L959.07 432.37L960.07 436.36L961.08 440.32L962.08 444.23L963.08 448.08L964.08 451.85L965.08 455.52L966.08 459.07L967.08 462.49L968.08 465.75L969.08 468.84L970.09 471.75L971.09 474.48L972.09 477.04L973.09 479.41L974.09 481.62L975.09 483.65L976.09 485.5L977.09 487.19L978.1 488.7L979.1 490.08L980.1 491.38L981.1 492.66L982.1 493.97L983.1 495.37L984.1 496.88L985.1 498.49L986.1 500.19L987.11 501.97L988.11 503.83L989.11 505.76L990.11 507.75L991.11 509.8L992.11 511.89L993.11 514.03L994.11 516.2L995.12 518.4L996.12 520.62L997.12 522.85L998.12 525.08L999.12 527.32L1000.12 529.54L1001.12 531.75L1002.12 533.94L1003.12 536.09L1004.13 538.2L1005.13 540.25L1006.13 542.24L1007.13 544.15L1008.13 545.96L1009.13 547.67L1010.13 549.26L1011.13 550.72L1012.14 552.04L1013.14 553.21L1014.14 554.22L1015.14 555.04L1016.14 555.68L1017.14 556.11L1018.14 556.34L1019.14 556.33L1020.14 556.09L1021.15 555.6L1022.15 554.84L1023.15 553.81L1024.15 552.5L1025.15 550.88L1026.15 548.96L1027.15 546.74L1028.15 544.25L1029.16 541.53L1030.16 538.6L1031.16 535.49L1032.16 532.23L1033.16 528.85L1034.16 525.39L1035.16 521.86L1036.16 518.3L1037.16 514.74L1038.17 511.2L1039.17 507.72L1040.17 504.31L1041.17 500.96L1042.17 497.68L1043.17 494.47L1044.17 491.32L1045.17 488.25L1046.18 485.24L1047.18 482.3L1048.18 479.43L1049.18 476.63L1050.18 473.9L1051.18 471.24L1052.18 468.65L1053.18 466.13L1054.18 463.68L1055.19 461.3L1056.19 459L1057.19 456.76L1058.19 454.59L1059.19 452.48L1060.19 450.44L1061.19 448.46L1062.19 446.54L1063.2 444.68L1064.2 442.88L1065.2 441.14L1066.2 439.45L1067.2 437.81L1068.2 436.2L1069.2 434.62L1070.2 433.06L1071.2 431.5L1072.21 429.94L1073.21 428.37L1074.21 426.77L1075.21 425.13L1076.21 423.45L1077.21 421.71L1078.21 419.9L1079.21 418.02L1080.22 416.05L1081.22 413.98L1082.22 411.81L1083.22 409.52L1084.22 407.16L1085.22 404.74L1086.22 402.29L1087.22 399.82L1088.22 397.36L1089.23 394.94L1090.23 392.58L1091.23 390.3L1092.23 388.11L1093.23 386.02L1094.23 384.05L1095.23 382.2L1096.23 380.48L1097.24 378.9L1098.24 377.48L1099.24 376.21L1100.24 375.12L1101.24 374.2L1102.24 373.48L1103.24 372.96L1104.24 372.64L1105.24 372.54L1106.25 372.67L1107.25 373.03L1108.25 373.62L1109.25 374.46L1110.25 375.54L1111.25 376.87L1112.25 378.46L1113.25 380.31L1114.26 382.42L1115.26 384.77L1116.26 387.36L1117.26 390.16L1118.26 393.16L1119.26 396.33L1120.26 399.67L1121.26 403.15L1122.26 406.76L1123.27 410.48L1124.27 414.3L1125.27 418.2L1126.27 422.15L1127.27 426.15L1128.27 430.18L1129.27 434.19L1130.27 438.14L1131.28 441.99L1132.28 445.7L1133.28 449.24L1134.28 452.56L1135.28 455.68L1136.28 458.64L1137.28 461.48L1138.28 464.23L1139.28 466.95L1140.29 469.64L1141.29 472.27L1142.29 474.8L1143.29 477.2L1144.29 479.43L1145.29 481.46L1146.29 483.32L1147.29 485.02L1148.3 486.58L1149.3 488.02L1150.3 489.36L1151.3 490.61L1152.3 491.79L1153.3 492.91L1154.3 494.01L1155.3 495.09L1156.3 496.18L1157.31 497.28L1158.31 498.43L1159.31 499.63L1160.31 500.9L1161.31 502.27L1162.31 503.75L1163.31 505.36L1164.31 507.11L1165.32 508.98L1166.32 510.96L1167.32 513.04L1168.32 515.2L1169.32 517.42L1170.32 519.68L1171.32 521.98L1172.32 524.29L1173.32 526.59L1174.33 528.88L1175.33 531.14L1176.33 533.34L1177.33 535.48L1178.33 537.54L1179.33 539.49L1180.33 541.34L1181.33 543.05L1182.34 544.61L1183.34 546.02L1184.34 547.24L1185.34 548.27L1186.34 549.09L1187.34 549.68L1188.34 550.03L1189.34 550.12L1190.34 549.94L1191.35 549.49L1192.35 548.78L1193.35 547.83L1194.35 546.64L1195.35 545.23L1196.35 543.6L1197.35 541.77L1198.35 539.75L1199.36 537.55L1200.36 535.19L1201.36 532.66L1202.36 529.99L1203.36 527.18L1204.36 524.25L1205.36 521.21L1206.36 518.06L1207.36 514.83L1208.37 511.53L1209.37 508.16L1210.37 504.75L1211.37 501.3L1212.37 497.82L1213.37 494.34L1214.37 490.86L1215.37 487.4L1216.38 483.96L1217.38 480.57L1218.38 477.24L1219.38 473.97L1220.38 470.78L1221.38 467.69L1222.38 464.7L1223.38 461.83L1224.38 459.1L1225.39 456.51L1226.39 454.06L1227.39 451.75L1228.39 449.59L1229.39 447.56L1230.39 445.68L1231.39 443.94L1232.39 442.34L1233.4 440.87L1234.4 439.53L1235.4 438.28L1236.4 437.11L1237.4 435.99L1238.4 434.91L1239.4 433.85L1240.4 432.77L1241.4 431.67L1242.41 430.52L1243.41 429.29L1244.41 427.99L1245.41 426.59L1246.41 425.12L1247.41 423.56L1248.41 421.93L1249.41 420.21L1250.42 418.43L1251.42 416.57L1252.42 414.64L1253.42 412.64L1254.42 410.57L1255.42 408.44L1256.42 406.25L1257.42 403.99L1258.42 401.68L1259.43 399.31L1260.43 396.89L1261.43 394.45L1262.43 392.02L1263.43 389.64L1264.43 387.33L1265.43 385.12L1266.43 383.06L1267.44 381.17L1268.44 379.47L1269.44 377.97L1270.44 376.7L1271.44 375.65L1272.44 374.85L1273.44 374.3L1274.44 374.02L1275.44 374.02L1276.45 374.29L1277.45 374.82L1278.45 375.6L1279.45 376.62L1280.45 377.88L1281.45 379.37L1282.45 381.07L1283.45 382.98L1284.46 385.08L1285.46 387.37L1286.46 389.84L1287.46 392.48L1288.46 395.28L1289.46 398.23L1290.46 401.32L1291.46 404.55L1292.46 407.9L1293.47 411.36L1294.47 414.92L1295.47 418.58L1296.47 422.33L1297.47 426.15L1298.47 430.03L1299.47 433.95L1300.47 437.88L1301.48 441.78L1302.48 445.64L1303.48 449.43L1304.48 453.11L1305.48 456.68L1306.48 460.08L1307.48 463.31L1308.48 466.34L1309.48 469.14L1310.49 471.73L1311.49 474.12L1312.49 476.32L1313.49 478.36L1314.49 480.23L1315.49 481.96L1316.49 483.56L1317.49 485.04L1318.5 486.42L1319.5 487.71L1320.5 488.91L1321.5 490.06L1322.5 491.15L1323.5 492.21L1324.5 493.24L1325.5 494.26L1326.5 495.28L1327.51 496.32L1328.51 497.39L1329.51 498.5L1330.51 499.67L1331.51 500.91L1332.51 502.23L1333.51 503.65L1334.51 505.18L1335.52 506.83L1336.52 508.62L1337.52 510.51L1338.52 512.5L1339.52 514.57L1340.52 516.71L1341.52 518.89L1342.52 521.1L1343.52 523.32L1344.53 525.54L1345.53 527.73L1346.53 529.89L1347.53 531.99L1348.53 534.02L1349.53 535.96L1350.53 537.8L1351.53 539.51L1352.54 541.08L1353.54 542.51L1354.54 543.78L1355.54 544.88L1356.54 545.82L1357.54 546.57L1358.54 547.13L1359.54 547.49L1360.54 547.64L1361.55 547.58L1362.55 547.3L1363.55 546.78L1364.55 546.03L1365.55 545.03L1366.55 543.76L1367.55 542.24L1368.55 540.44L1369.56 538.36L1370.56 535.98L1371.56 533.32L1372.56 530.37L1373.56 527.19L1374.56 523.82L1375.56 520.3L1376.56 516.67L1377.56 512.96L1378.57 509.22L1379.57 505.46L1380.57 501.7L1381.57 497.96L1382.57 494.24L1383.57 490.57L1384.57 486.96L1385.57 483.43L1386.58 480L1387.58 476.67L1388.58 473.47L1389.58 470.41L1390.58 467.51L1391.58 464.78L1392.58 462.21L1393.58 459.8L1394.58 457.55L1395.59 455.44L1396.59 453.47L1397.59 451.64L1398.59 449.95L1399.59 448.37L1400.59 446.92L1401.59 445.59L1402.59 444.36L1403.6 443.23L1404.6 442.21L1405.6 441.28L1406.6 440.43L1407.6 439.66" fill="none" stroke="#ff7f0e" stroke-width="4" stroke-linecap="butt" stroke-linejoin="round" stroke-dasharray="14.8 6.4"/>
<path d="M897.3 463.18L898.3 458.86L899.3 454.53L900.3 450.18L901.3 445.83L902.3 441.48L903.31 437.13L904.31 432.79L905.31 428.47L906.31 424.16L907.31 419.88L908.31 415.63L909.31 411.41L910.31 407.23L911.31 403.09L912.31 399.01L913.32 394.98L914.32 391.01L915.32 387.12L916.32 383.32L917.32 379.61L918.32 376.01L919.32 372.53L920.32 369.18L921.32 365.97L922.32 362.91L923.33 360.01L924.33 357.29L925.33 354.75L926.33 352.4L927.33 350.26L928.33 348.33L929.33 346.63L930.33 345.17L931.33 343.94L932.33 342.94L933.34 342.17L934.34 341.63L935.34 341.3L936.34 341.18L937.34 341.26L938.34 341.55L939.34 342.04L940.34 342.72L941.34 343.58L942.34 344.63L943.35 345.85L944.35 347.25L945.35 348.81L946.35 350.53L947.35 352.41L948.35 354.45L949.35 356.63L950.35 358.96L951.35 361.42L952.35 364.02L953.35 366.75L954.36 369.61L955.36 372.59L956.36 375.68L957.36 378.88L958.36 382.2L959.36 385.61L960.36 389.12L961.36 392.73L962.36 396.42L963.36 400.2L964.37 404.06L965.37 407.99L966.37 412L967.37 416.07L968.37 420.2L969.37 424.39L970.37 428.63L971.37 432.92L972.37 437.25L973.37 441.62L974.38 446.02L975.38 450.45L976.38 454.91L977.38 459.39L978.38 463.88L979.38 468.39L980.38 472.9L981.38 477.41L982.38 481.92L983.38 486.42L984.39 490.91L985.39 495.38L986.39 499.83L987.39 504.25L988.39 508.64L989.39 512.99L990.39 517.3L991.39 521.57L992.39 525.78L993.39 529.93L994.4 534.02L995.4 538.05L996.4 542L997.4 545.87L998.4 549.67L999.4 553.37L1000.4 556.99L1001.4 560.5L1002.4 563.92L1003.4 567.23L1004.4 570.42L1005.41 573.5L1006.41 576.46L1007.41 579.29L1008.41 581.99L1009.41 584.56L1010.41 586.98L1011.41 589.25L1012.41 591.38L1013.41 593.35L1014.41 595.15L1015.42 596.79L1016.42 598.26L1017.42 599.54L1018.42 600.63L1019.42 601.53L1020.42 602.21L1021.42 602.68L1022.42 602.92L1023.42 602.92L1024.42 602.69L1025.43 602.2L1026.43 601.45L1027.43 600.44L1028.43 599.14L1029.43 597.56L1030.43 595.69L1031.43 593.53L1032.43 591.1L1033.43 588.42L1034.43 585.53L1035.44 582.42L1036.44 579.14L1037.44 575.69L1038.44 572.09L1039.44 568.38L1040.44 564.57L1041.44 560.68L1042.44 556.73L1043.44 552.74L1044.44 548.74L1045.45 544.74L1046.45 540.75L1047.45 536.77L1048.45 532.8L1049.45 528.84L1050.45 524.88L1051.45 520.92L1052.45 516.95L1053.45 512.97L1054.45 508.98L1055.45 504.98L1056.46 500.96L1057.46 496.92L1058.46 492.86L1059.46 488.77L1060.46 484.65L1061.46 480.5L1062.46 476.31L1063.46 472.09L1064.46 467.83L1065.46 463.56L1066.47 459.28L1067.47 454.98L1068.47 450.69L1069.47 446.41L1070.47 442.14L1071.47 437.89L1072.47 433.67L1073.47 429.48L1074.47 425.34L1075.47 421.24L1076.48 417.21L1077.48 413.23L1078.48 409.33L1079.48 405.51L1080.48 401.77L1081.48 398.11L1082.48 394.55L1083.48 391.09L1084.48 387.72L1085.48 384.45L1086.49 381.28L1087.49 378.23L1088.49 375.28L1089.49 372.45L1090.49 369.73L1091.49 367.14L1092.49 364.66L1093.49 362.31L1094.49 360.09L1095.49 358.01L1096.5 356.06L1097.5 354.24L1098.5 352.57L1099.5 351.05L1100.5 349.67L1101.5 348.44L1102.5 347.37L1103.5 346.46L1104.5 345.7L1105.5 345.11L1106.5 344.69L1107.51 344.43L1108.51 344.35L1109.51 344.45L1110.51 344.72L1111.51 345.18L1112.51 345.82L1113.51 346.66L1114.51 347.68L1115.51 348.9L1116.51 350.32L1117.52 351.94L1118.52 353.76L1119.52 355.79L1120.52 358.02L1121.52 360.43L1122.52 363.01L1123.52 365.76L1124.52 368.66L1125.52 371.69L1126.52 374.86L1127.53 378.15L1128.53 381.54L1129.53 385.02L1130.53 388.59L1131.53 392.23L1132.53 395.94L1133.53 399.69L1134.53 403.48L1135.53 407.3L1136.53 411.14L1137.54 414.98L1138.54 418.82L1139.54 422.65L1140.54 426.47L1141.54 430.29L1142.54 434.11L1143.54 437.93L1144.54 441.76L1145.54 445.59L1146.54 449.44L1147.55 453.3L1148.55 457.18L1149.55 461.08L1150.55 465L1151.55 468.95L1152.55 472.92L1153.55 476.93L1154.55 480.97L1155.55 485.04L1156.55 489.14L1157.55 493.25L1158.56 497.37L1159.56 501.5L1160.56 505.62L1161.56 509.73L1162.56 513.82L1163.56 517.88L1164.56 521.9L1165.56 525.88L1166.56 529.82L1167.56 533.69L1168.57 537.5L1169.57 541.24L1170.57 544.9L1171.57 548.47L1172.57 551.94L1173.57 555.32L1174.57 558.58L1175.57 561.73L1176.57 564.75L1177.57 567.64L1178.58 570.39L1179.58 573L1180.58 575.45L1181.58 577.74L1182.58 579.86L1183.58 581.8L1184.58 583.55L1185.58 585.12L1186.58 586.49L1187.58 587.65L1188.59 588.61L1189.59 589.36L1190.59 589.9L1191.59 590.23L1192.59 590.35L1193.59 590.24L1194.59 589.92L1195.59 589.37L1196.59 588.6L1197.59 587.6L1198.6 586.38L1199.6 584.92L1200.6 583.22L1201.6 581.29L1202.6 579.13L1203.6 576.76L1204.6 574.2L1205.6 571.46L1206.6 568.56L1207.6 565.51L1208.6 562.33L1209.61 559.03L1210.61 555.64L1211.61 552.16L1212.61 548.62L1213.61 545.03L1214.61 541.4L1215.61 537.76L1216.61 534.12L1217.61 530.48L1218.61 526.87L1219.62 523.27L1220.62 519.68L1221.62 516.1L1222.62 512.52L1223.62 508.93L1224.62 505.33L1225.62 501.72L1226.62 498.08L1227.62 494.43L1228.62 490.74L1229.63 487.02L1230.63 483.26L1231.63 479.45L1232.63 475.6L1233.63 471.69L1234.63 467.74L1235.63 463.76L1236.63 459.74L1237.63 455.7L1238.63 451.65L1239.64 447.58L1240.64 443.52L1241.64 439.46L1242.64 435.41L1243.64 431.38L1244.64 427.38L1245.64 423.42L1246.64 419.49L1247.64 415.61L1248.64 411.79L1249.65 408.03L1250.65 404.33L1251.65 400.72L1252.65 397.18L1253.65 393.74L1254.65 390.38L1255.65 387.12L1256.65 383.96L1257.65 380.9L1258.65 377.94L1259.65 375.1L1260.66 372.36L1261.66 369.75L1262.66 367.25L1263.66 364.88L1264.66 362.63L1265.66 360.51L1266.66 358.53L1267.66 356.69L1268.66 354.99L1269.66 353.43L1270.67 352.02L1271.67 350.77L1272.67 349.67L1273.67 348.73L1274.67 347.96L1275.67 347.35L1276.67 346.91L1277.67 346.64L1278.67 346.56L1279.67 346.65L1280.68 346.93L1281.68 347.4L1282.68 348.06L1283.68 348.92L1284.68 349.98L1285.68 351.24L1286.68 352.7L1287.68 354.38L1288.68 356.27L1289.68 358.37L1290.69 360.68L1291.69 363.17L1292.69 365.84L1293.69 368.67L1294.69 371.65L1295.69 374.76L1296.69 378L1297.69 381.34L1298.69 384.78L1299.69 388.31L1300.7 391.9L1301.7 395.55L1302.7 399.25L1303.7 402.97L1304.7 406.72L1305.7 410.46L1306.7 414.2L1307.7 417.91L1308.7 421.59L1309.7 425.24L1310.7 428.87L1311.71 432.48L1312.71 436.09L1313.71 439.69L1314.71 443.31L1315.71 446.95L1316.71 450.61L1317.71 454.3L1318.71 458.04L1319.71 461.83L1320.71 465.67L1321.72 469.54L1322.72 473.45L1323.72 477.38L1324.72 481.33L1325.72 485.29L1326.72 489.27L1327.72 493.24L1328.72 497.21L1329.72 501.16L1330.72 505.1L1331.73 509.01L1332.73 512.9L1333.73 516.74L1334.73 520.55L1335.73 524.3L1336.73 527.99L1337.73 531.63L1338.73 535.19L1339.73 538.68L1340.73 542.09L1341.74 545.42L1342.74 548.64L1343.74 551.77L1344.74 554.79L1345.74 557.7L1346.74 560.49L1347.74 563.15L1348.74 565.69L1349.74 568.08L1350.74 570.33L1351.75 572.43L1352.75 574.37L1353.75 576.15L1354.75 577.75L1355.75 579.19L1356.75 580.44L1357.75 581.52L1358.75 582.41L1359.75 583.11L1360.75 583.62L1361.75 583.95L1362.76 584.08L1363.76 584.01L1364.76 583.75L1365.76 583.28L1366.76 582.61L1367.76 581.73L1368.76 580.64L1369.76 579.34L1370.76 577.83L1371.76 576.1L1372.77 574.15L1373.77 571.99L1374.77 569.63L1375.77 567.09L1376.77 564.38L1377.77 561.51L1378.77 558.5L1379.77 555.36L1380.77 552.1L1381.77 548.74L1382.78 545.28L1383.78 541.75L1384.78 538.16L1385.78 534.51L1386.78 530.83L1387.78 527.12L1388.78 523.4L1389.78 519.69L1390.78 515.99L1391.78 512.31L1392.79 508.68L1393.79 505.08L1394.79 501.51L1395.79 497.99L1396.79 494.5L1397.79 491.04L1398.79 487.62L1399.79 484.24L1400.79 480.89L1401.79 477.57L1402.8 474.29L1403.8 471.05L1404.8 467.83L1405.8 464.66L1406.8 461.51L1407.8 458.4" fill="none" stroke="#2ca02c" stroke-width="4" stroke-linecap="square" stroke-linejoin="round"/>
</g>
<rect x="143" y="0.7" width="563.2" height="289.6" fill="none" stroke="#000" stroke-width="2.15"/>
<path d="M168.2 290.3v9.4M270.58 290.3v9.4M372.96 290.3v9.4M475.34 290.3v9.4M577.72 290.3v9.4M680.1 290.3v9.4M143 58.1h-9.4M143 145.9h-9.4M143 233.7h-9.4" stroke="#000" stroke-width="2.15" fill="none"/>
<text x="82.99" y="67.95" textLength="41.67" lengthAdjust="spacingAndGlyphs">1.1</text>
<text x="82.99" y="155.75" textLength="41.67" lengthAdjust="spacingAndGlyphs">1.0</text>
<text x="82.99" y="243.55" textLength="41.67" lengthAdjust="spacingAndGlyphs">0.9</text>
<text x="67.6" y="210.57" textLength="129.74" lengthAdjust="spacingAndGlyphs" transform="rotate(-90 67.6 210.57)">stretch [-]</text>
<rect x="870.1" y="0.7" width="563.4" height="289.6" fill="none" stroke="#000" stroke-width="2.15"/>
<path d="M876.9 290.3v9.4M967.18 290.3v9.4M1057.47 290.3v9.4M1147.75 290.3v9.4M1238.03 290.3v9.4M1328.32 290.3v9.4M1418.6 290.3v9.4M870.1 58.1h-9.4M870.1 145.9h-9.4M870.1 233.7h-9.4" stroke="#000" stroke-width="2.15" fill="none"/>
<text x="810.09" y="67.95" textLength="41.67" lengthAdjust="spacingAndGlyphs">0.1</text>
<text x="810.09" y="155.75" textLength="41.67" lengthAdjust="spacingAndGlyphs">0.0</text>
<text lengthAdjust="spacingAndGlyphs"><tspan x="788.54" y="244.45" textLength="21.15" lengthAdjust="spacingAndGlyphs">−</tspan><tspan x="810.09" y="243.55" textLength="41.67" lengthAdjust="spacingAndGlyphs">0.1</tspan></text>
<text x="772.1" y="272.91" textLength="254.42" lengthAdjust="spacingAndGlyphs" transform="rotate(-90 772.1 272.91)">amount of shear [-]</text>
<rect x="143" y="328" width="563.2" height="289.3" fill="none" stroke="#000" stroke-width="2.15"/>
<path d="M168.2 617.3v9.4M270.58 617.3v9.4M372.96 617.3v9.4M475.34 617.3v9.4M577.72 617.3v9.4M680.1 617.3v9.4M143 420.1h-9.4M143 513.8h-9.4M143 607.5h-9.4" stroke="#000" stroke-width="2.15" fill="none"/>
<text x="107.99" y="429.95" textLength="16.67" lengthAdjust="spacingAndGlyphs">0</text>
<text lengthAdjust="spacingAndGlyphs"><tspan x="53.1" y="524.55" textLength="21.15" lengthAdjust="spacingAndGlyphs">−</tspan><tspan x="74.65" y="523.65" textLength="50.01" lengthAdjust="spacingAndGlyphs">500</tspan></text>
<text lengthAdjust="spacingAndGlyphs"><tspan x="36.43" y="618.25" textLength="21.15" lengthAdjust="spacingAndGlyphs">−</tspan><tspan x="57.98" y="617.35" textLength="66.68" lengthAdjust="spacingAndGlyphs">1000</tspan></text>
<text x="159.87" y="655.2" textLength="16.67" lengthAdjust="spacingAndGlyphs">0</text>
<text x="245.58" y="655.2" textLength="50.01" lengthAdjust="spacingAndGlyphs">200</text>
<text x="347.96" y="655.2" textLength="50.01" lengthAdjust="spacingAndGlyphs">400</text>
<text x="450.34" y="655.2" textLength="50.01" lengthAdjust="spacingAndGlyphs">600</text>
<text x="552.72" y="655.2" textLength="50.01" lengthAdjust="spacingAndGlyphs">800</text>
<text x="646.76" y="655.2" textLength="66.68" lengthAdjust="spacingAndGlyphs">1000</text>
<text x="373.79" y="691.3" textLength="101.61" lengthAdjust="spacingAndGlyphs">time [s]</text>
<text x="20" y="597.99" textLength="250.68" lengthAdjust="spacingAndGlyphs" transform="rotate(-90 20 597.99)">nominal stress [Pa]</text>
<rect x="870.1" y="328" width="563.4" height="289.2" fill="none" stroke="#000" stroke-width="2.15"/>
<path d="M876.9 617.2v9.4M967.18 617.2v9.4M1057.47 617.2v9.4M1147.75 617.2v9.4M1238.03 617.2v9.4M1328.32 617.2v9.4M1418.6 617.2v9.4M870.1 341h-9.4M870.1 402.8h-9.4M870.1 464.55h-9.4M870.1 526.3h-9.4M870.1 588.1h-9.4" stroke="#000" stroke-width="2.15" fill="none"/>
<text x="801.75" y="350.85" textLength="50.01" lengthAdjust="spacingAndGlyphs">100</text>
<text x="818.42" y="412.65" textLength="33.34" lengthAdjust="spacingAndGlyphs">50</text>
<text x="835.09" y="474.4" textLength="16.67" lengthAdjust="spacingAndGlyphs">0</text>
<text lengthAdjust="spacingAndGlyphs"><tspan x="796.87" y="537.05" textLength="21.15" lengthAdjust="spacingAndGlyphs">−</tspan><tspan x="818.42" y="536.15" textLength="33.34" lengthAdjust="spacingAndGlyphs">50</tspan></text>
<text lengthAdjust="spacingAndGlyphs"><tspan x="780.2" y="598.85" textLength="21.15" lengthAdjust="spacingAndGlyphs">−</tspan><tspan x="801.75" y="597.95" textLength="50.01" lengthAdjust="spacingAndGlyphs">100</tspan></text>
<text x="843.56" y="655.1" textLength="66.68" lengthAdjust="spacingAndGlyphs">1000</text>
<text x="933.84" y="655.1" textLength="66.68" lengthAdjust="spacingAndGlyphs">1010</text>
<text x="1024.13" y="655.1" textLength="66.68" lengthAdjust="spacingAndGlyphs">1020</text>
<text x="1114.41" y="655.1" textLength="66.68" lengthAdjust="spacingAndGlyphs">1030</text>
<text x="1204.69" y="655.1" textLength="66.68" lengthAdjust="spacingAndGlyphs">1040</text>
<text x="1294.98" y="655.1" textLength="66.68" lengthAdjust="spacingAndGlyphs">1050</text>
<text x="1385.26" y="655.1" textLength="66.68" lengthAdjust="spacingAndGlyphs">1060</text>
<text x="1100.99" y="691.3" textLength="101.61" lengthAdjust="spacingAndGlyphs">time [s]</text>
<text x="763.7" y="581.9" textLength="218.51" lengthAdjust="spacingAndGlyphs" transform="rotate(-90 763.7 581.9)">shear stress [Pa]</text>
<rect x="517.3" y="519.5" width="175.8" height="84.7" rx="5.2" ry="5.2" fill="#fff" fill-opacity="0.8" stroke="#ccc" stroke-opacity="0.8" stroke-width="2.6"/>
<path d="M527.8 540.6H580.2" stroke="#ff7f0e" stroke-width="4" stroke-dasharray="14.8 6.4" fill="none"/>
<path d="M527.8 578.9H580.2" stroke="#2ca02c" stroke-width="4" stroke-linecap="square" fill="none"/>
<text x="601.2" y="550.1" textLength="47.8" lengthAdjust="spacingAndGlyphs">exp</text>
<text x="601.2" y="588.4" textLength="81.58" lengthAdjust="spacingAndGlyphs">model</text>
</g></svg>
</body></html>
